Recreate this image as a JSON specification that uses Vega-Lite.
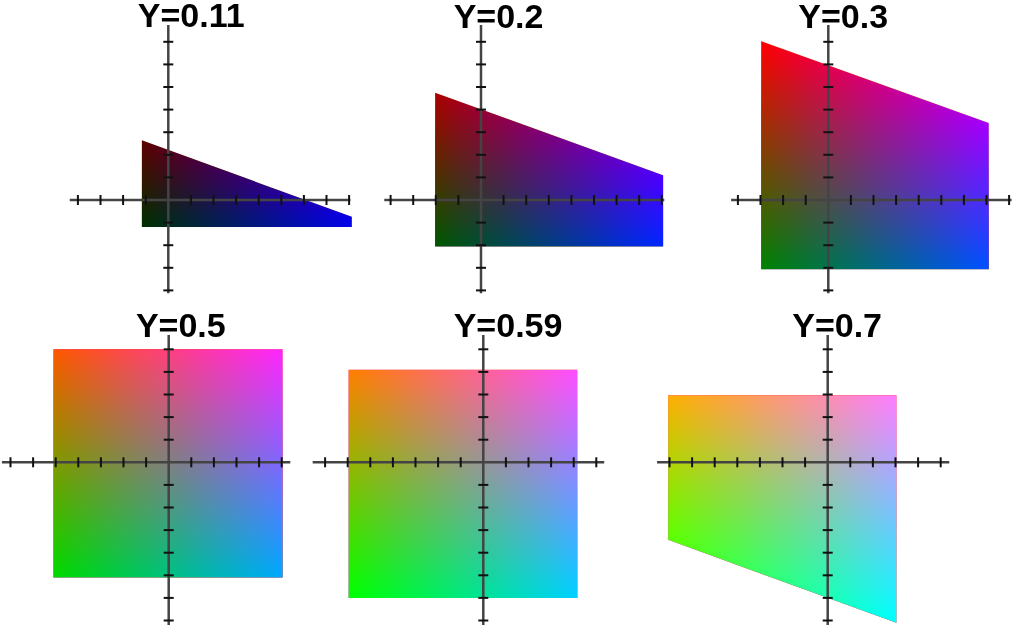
{
  "$schema": "https://vega.github.io/schema/vega-lite/v6.json",
  "padding": 0,
  "background": "white",
  "spacing": 0,
  "bounds": "flush",
  "columns": 3,
  "config": {"view": {"stroke": null}},
  "datasets": {
    "polygons": [
      {"panel": "Y=0.11", "b": -0.117, "r": 0.264, "r2": -0.119},
      {"panel": "Y=0.11", "b": 0.812, "r": -0.074, "r2": -0.119},
      {"panel": "Y=0.2", "b": -0.203, "r": 0.475, "r2": -0.206},
      {"panel": "Y=0.2", "b": 0.806, "r": 0.110, "r2": -0.206},
      {"panel": "Y=0.3", "b": -0.297, "r": 0.703, "r2": -0.306},
      {"panel": "Y=0.3", "b": 0.71, "r": 0.341, "r2": -0.306},
      {"panel": "Y=0.5", "b": -0.51, "r": 0.5, "r2": -0.51},
      {"panel": "Y=0.5", "b": 0.504, "r": 0.5, "r2": -0.51},
      {"panel": "Y=0.59", "b": -0.596, "r": 0.41, "r2": -0.6},
      {"panel": "Y=0.59", "b": 0.416, "r": 0.41, "r2": -0.6},
      {"panel": "Y=0.7", "b": -0.706, "r": 0.297, "r2": -0.343},
      {"panel": "Y=0.7", "b": 0.304, "r": 0.297, "r2": -0.71}
    ],
    "axes": [
      {"panel": "Y=0.11", "b": -0.436, "b2": 0.806, "r": 0, "r2": 0},
      {"panel": "Y=0.11", "b": 0, "b2": 0, "r": -0.413, "r2": 0.774},
      {"panel": "Y=0.2", "b": -0.428, "b2": 0.811, "r": 0, "r2": 0},
      {"panel": "Y=0.2", "b": 0, "b2": 0, "r": -0.413, "r2": 0.774},
      {"panel": "Y=0.3", "b": -0.43, "b2": 0.811, "r": 0, "r2": 0},
      {"panel": "Y=0.3", "b": 0, "b2": 0, "r": -0.413, "r2": 0.774},
      {"panel": "Y=0.5", "b": -0.738, "b2": 0.538, "r": 0, "r2": 0},
      {"panel": "Y=0.5", "b": 0, "b2": 0, "r": -0.72, "r2": 0.563},
      {"panel": "Y=0.59", "b": -0.755, "b2": 0.535, "r": 0, "r2": 0},
      {"panel": "Y=0.59", "b": 0, "b2": 0, "r": -0.72, "r2": 0.563},
      {"panel": "Y=0.7", "b": -0.755, "b2": 0.538, "r": 0, "r2": 0},
      {"panel": "Y=0.7", "b": 0, "b2": 0, "r": -0.72, "r2": 0.563}
    ],
    "ticks_top": [
      {"dir": "h", "b": -0.4, "r": 0}, {"dir": "h", "b": -0.3, "r": 0}, {"dir": "h", "b": -0.2, "r": 0}, {"dir": "h", "b": -0.1, "r": 0},
      {"dir": "h", "b": 0.1, "r": 0}, {"dir": "h", "b": 0.2, "r": 0}, {"dir": "h", "b": 0.3, "r": 0}, {"dir": "h", "b": 0.4, "r": 0},
      {"dir": "h", "b": 0.5, "r": 0}, {"dir": "h", "b": 0.6, "r": 0}, {"dir": "h", "b": 0.7, "r": 0}, {"dir": "h", "b": 0.8, "r": 0},
      {"dir": "v", "b": 0, "r": -0.4}, {"dir": "v", "b": 0, "r": -0.3}, {"dir": "v", "b": 0, "r": -0.2}, {"dir": "v", "b": 0, "r": -0.1},
      {"dir": "v", "b": 0, "r": 0.1}, {"dir": "v", "b": 0, "r": 0.2}, {"dir": "v", "b": 0, "r": 0.3}, {"dir": "v", "b": 0, "r": 0.4},
      {"dir": "v", "b": 0, "r": 0.5}, {"dir": "v", "b": 0, "r": 0.6}, {"dir": "v", "b": 0, "r": 0.7}
    ],
    "ticks_bottom": [
      {"dir": "h", "b": -0.7, "r": 0}, {"dir": "h", "b": -0.6, "r": 0}, {"dir": "h", "b": -0.5, "r": 0}, {"dir": "h", "b": -0.4, "r": 0},
      {"dir": "h", "b": -0.3, "r": 0}, {"dir": "h", "b": -0.2, "r": 0}, {"dir": "h", "b": -0.1, "r": 0}, {"dir": "h", "b": 0.1, "r": 0},
      {"dir": "h", "b": 0.2, "r": 0}, {"dir": "h", "b": 0.3, "r": 0}, {"dir": "h", "b": 0.4, "r": 0}, {"dir": "h", "b": 0.5, "r": 0},
      {"dir": "v", "b": 0, "r": -0.7}, {"dir": "v", "b": 0, "r": -0.6}, {"dir": "v", "b": 0, "r": -0.5}, {"dir": "v", "b": 0, "r": -0.4},
      {"dir": "v", "b": 0, "r": -0.3}, {"dir": "v", "b": 0, "r": -0.2}, {"dir": "v", "b": 0, "r": -0.1}, {"dir": "v", "b": 0, "r": 0.1},
      {"dir": "v", "b": 0, "r": 0.2}, {"dir": "v", "b": 0, "r": 0.3}, {"dir": "v", "b": 0, "r": 0.4}, {"dir": "v", "b": 0, "r": 0.5}
    ],
    "titles": [
      {"panel": "Y=0.11", "b": -0.135, "r": 0.764},
      {"panel": "Y=0.2", "b": -0.121, "r": 0.76},
      {"panel": "Y=0.3", "b": -0.133, "r": 0.76},
      {"panel": "Y=0.5", "b": -0.145, "r": 0.553},
      {"panel": "Y=0.59", "b": -0.131, "r": 0.553},
      {"panel": "Y=0.7", "b": -0.157, "r": 0.553}
    ]
  },
  "concat": [
    {
      "width": 320, "height": 300,
      "encoding": {
        "x": {"field": "b", "type": "quantitative", "scale": {"domain": [-0.74027, 0.67566], "nice": false, "zero": false}, "axis": null},
        "y": {"field": "r", "type": "quantitative", "scale": {"domain": [-0.44248, 0.88496], "nice": false, "zero": false}, "axis": null}
      },
      "layer": [
        {"data": {"name": "polygons"}, "transform": [{"filter": "datum.panel == 'Y=0.11'"}],
         "mark": {"type": "area", "opacity": 1, "fill": {"gradient": "linear", "x1": 0, "y1": 0.9765, "x2": 0, "y2": -1.6345, "stops": [{"offset": 0, "color": "#000000"}, {"offset": 1, "color": "#ff0000"}]}},
         "encoding": {"y2": {"field": "r2"}}},
        {"data": {"name": "polygons"}, "transform": [{"filter": "datum.panel == 'Y=0.11'"}],
         "mark": {"type": "area", "opacity": 1, "blend": "lighten", "fill": {"gradient": "linear", "x1": -0.0045, "y1": 0.0049, "x2": -2.5594, "y2": 2.7679, "stops": [{"offset": 0, "color": "#000000"}, {"offset": 1, "color": "#00ff00"}]}},
         "encoding": {"y2": {"field": "r2"}}},
        {"data": {"name": "polygons"}, "transform": [{"filter": "datum.panel == 'Y=0.11'"}],
         "mark": {"type": "area", "opacity": 1, "blend": "lighten", "fill": {"gradient": "linear", "x1": 0.0075, "y1": 0, "x2": 1.084, "y2": 0, "stops": [{"offset": 0, "color": "#000000"}, {"offset": 1, "color": "#0000ff"}]}},
         "encoding": {"y2": {"field": "r2"}}},
        {"data": {"name": "axes"}, "transform": [{"filter": "datum.panel == 'Y=0.11'"}],
         "mark": {"type": "rule", "color": "#444444", "strokeWidth": 2.5},
         "encoding": {"x2": {"field": "b2"}, "y2": {"field": "r2"}}},
        {"data": {"name": "ticks_top"}, "transform": [{"filter": "datum.dir == 'h'"}],
         "mark": {"type": "tick", "orient": "vertical", "size": 10, "thickness": 2, "color": "#111111", "opacity": 1}},
        {"data": {"name": "ticks_top"}, "transform": [{"filter": "datum.dir == 'v'"}],
         "mark": {"type": "tick", "orient": "horizontal", "size": 10, "thickness": 2, "color": "#111111", "opacity": 1}},
        {"data": {"name": "titles"}, "transform": [{"filter": "datum.panel == 'Y=0.11'"}],
         "mark": {"type": "text", "align": "left", "baseline": "alphabetic", "fontSize": 34, "fontWeight": "bold", "font": "Liberation Sans", "color": "#000000"},
         "encoding": {"text": {"field": "panel"}}}
      ]
    },
    {
      "width": 340, "height": 300,
      "encoding": {
        "x": {"field": "b", "type": "quantitative", "scale": {"domain": [-0.70796, 0.79646], "nice": false, "zero": false}, "axis": null},
        "y": {"field": "r", "type": "quantitative", "scale": {"domain": [-0.44248, 0.88496], "nice": false, "zero": false}, "axis": null}
      },
      "layer": [
        {"data": {"name": "polygons"}, "transform": [{"filter": "datum.panel == 'Y=0.2'"}],
         "mark": {"type": "area", "opacity": 1, "fill": {"gradient": "linear", "x1": 0, "y1": 0.9912, "x2": 0, "y2": -0.4772, "stops": [{"offset": 0, "color": "#000000"}, {"offset": 1, "color": "#ff0000"}]}},
         "encoding": {"y2": {"field": "r2"}}},
        {"data": {"name": "polygons"}, "transform": [{"filter": "datum.panel == 'Y=0.2'"}],
         "mark": {"type": "area", "opacity": 1, "blend": "lighten", "fill": {"gradient": "linear", "x1": -0.0031, "y1": 0.0056, "x2": -1.2376, "y2": 2.191, "stops": [{"offset": 0, "color": "#000000"}, {"offset": 1, "color": "#00ff00"}]}},
         "encoding": {"y2": {"field": "r2"}}},
        {"data": {"name": "polygons"}, "transform": [{"filter": "datum.panel == 'Y=0.2'"}],
         "mark": {"type": "area", "opacity": 1, "blend": "lighten", "fill": {"gradient": "linear", "x1": 0.003, "y1": 0, "x2": 0.9941, "y2": 0, "stops": [{"offset": 0, "color": "#000000"}, {"offset": 1, "color": "#0000ff"}]}},
         "encoding": {"y2": {"field": "r2"}}},
        {"data": {"name": "axes"}, "transform": [{"filter": "datum.panel == 'Y=0.2'"}],
         "mark": {"type": "rule", "color": "#444444", "strokeWidth": 2.5},
         "encoding": {"x2": {"field": "b2"}, "y2": {"field": "r2"}}},
        {"data": {"name": "ticks_top"}, "transform": [{"filter": "datum.dir == 'h'"}],
         "mark": {"type": "tick", "orient": "vertical", "size": 10, "thickness": 2, "color": "#111111", "opacity": 1}},
        {"data": {"name": "ticks_top"}, "transform": [{"filter": "datum.dir == 'v'"}],
         "mark": {"type": "tick", "orient": "horizontal", "size": 10, "thickness": 2, "color": "#111111", "opacity": 1}},
        {"data": {"name": "titles"}, "transform": [{"filter": "datum.panel == 'Y=0.2'"}],
         "mark": {"type": "text", "align": "left", "baseline": "alphabetic", "fontSize": 34, "fontWeight": "bold", "font": "Liberation Sans", "color": "#000000"},
         "encoding": {"text": {"field": "panel"}}}
      ]
    },
    {
      "width": 364, "height": 300,
      "encoding": {
        "x": {"field": "b", "type": "quantitative", "scale": {"domain": [-0.74027, 0.87035], "nice": false, "zero": false}, "axis": null},
        "y": {"field": "r", "type": "quantitative", "scale": {"domain": [-0.44248, 0.88496], "nice": false, "zero": false}, "axis": null}
      },
      "layer": [
        {"data": {"name": "polygons"}, "transform": [{"filter": "datum.panel == 'Y=0.3'"}],
         "mark": {"type": "area", "opacity": 1, "fill": {"gradient": "linear", "x1": 0, "y1": 0.9941, "x2": 0, "y2": 0.003, "stops": [{"offset": 0, "color": "#000000"}, {"offset": 1, "color": "#ff0000"}]}},
         "encoding": {"y2": {"field": "r2"}}},
        {"data": {"name": "polygons"}, "transform": [{"filter": "datum.panel == 'Y=0.3'"}],
         "mark": {"type": "area", "opacity": 1, "blend": "lighten", "fill": {"gradient": "linear", "x1": -0.0003, "y1": 0.0007, "x2": -0.6469, "y2": 1.7003, "stops": [{"offset": 0, "color": "#000000"}, {"offset": 1, "color": "#00ff00"}]}},
         "encoding": {"y2": {"field": "r2"}}},
        {"data": {"name": "polygons"}, "transform": [{"filter": "datum.panel == 'Y=0.3'"}],
         "mark": {"type": "area", "opacity": 1, "blend": "lighten", "fill": {"gradient": "linear", "x1": -0.003, "y1": 0, "x2": 0.9901, "y2": 0, "stops": [{"offset": 0, "color": "#000000"}, {"offset": 1, "color": "#0000ff"}]}},
         "encoding": {"y2": {"field": "r2"}}},
        {"data": {"name": "axes"}, "transform": [{"filter": "datum.panel == 'Y=0.3'"}],
         "mark": {"type": "rule", "color": "#444444", "strokeWidth": 2.5},
         "encoding": {"x2": {"field": "b2"}, "y2": {"field": "r2"}}},
        {"data": {"name": "ticks_top"}, "transform": [{"filter": "datum.dir == 'h'"}],
         "mark": {"type": "tick", "orient": "vertical", "size": 10, "thickness": 2, "color": "#111111", "opacity": 1}},
        {"data": {"name": "ticks_top"}, "transform": [{"filter": "datum.dir == 'v'"}],
         "mark": {"type": "tick", "orient": "horizontal", "size": 10, "thickness": 2, "color": "#111111", "opacity": 1}},
        {"data": {"name": "titles"}, "transform": [{"filter": "datum.panel == 'Y=0.3'"}],
         "mark": {"type": "text", "align": "left", "baseline": "alphabetic", "fontSize": 34, "fontWeight": "bold", "font": "Liberation Sans", "color": "#000000"},
         "encoding": {"text": {"field": "panel"}}}
      ]
    },
    {
      "width": 320, "height": 333,
      "encoding": {
        "x": {"field": "b", "type": "quantitative", "scale": {"domain": [-0.74204, 0.67389], "nice": false, "zero": false}, "axis": null},
        "y": {"field": "r", "type": "quantitative", "scale": {"domain": [-0.75531, 0.71814], "nice": false, "zero": false}, "axis": null}
      },
      "layer": [
        {"data": {"name": "polygons"}, "transform": [{"filter": "datum.panel == 'Y=0.5'"}],
         "mark": {"type": "area", "opacity": 1, "fill": {"gradient": "linear", "x1": 0, "y1": 0.9901, "x2": 0, "y2": 0, "stops": [{"offset": 0, "color": "#000000"}, {"offset": 1, "color": "#ff0000"}]}},
         "encoding": {"y2": {"field": "r2"}}},
        {"data": {"name": "polygons"}, "transform": [{"filter": "datum.panel == 'Y=0.5'"}],
         "mark": {"type": "area", "opacity": 1, "blend": "lighten", "fill": {"gradient": "linear", "x1": 0.2234, "y1": -0.5838, "x2": -0.4254, "y2": 1.1115, "stops": [{"offset": 0, "color": "#000000"}, {"offset": 1, "color": "#00ff00"}]}},
         "encoding": {"y2": {"field": "r2"}}},
        {"data": {"name": "polygons"}, "transform": [{"filter": "datum.panel == 'Y=0.5'"}],
         "mark": {"type": "area", "opacity": 1, "blend": "lighten", "fill": {"gradient": "linear", "x1": 0.0099, "y1": 0, "x2": 0.9961, "y2": 0, "stops": [{"offset": 0, "color": "#000000"}, {"offset": 1, "color": "#0000ff"}]}},
         "encoding": {"y2": {"field": "r2"}}},
        {"data": {"name": "axes"}, "transform": [{"filter": "datum.panel == 'Y=0.5'"}],
         "mark": {"type": "rule", "color": "#444444", "strokeWidth": 2.5},
         "encoding": {"x2": {"field": "b2"}, "y2": {"field": "r2"}}},
        {"data": {"name": "ticks_bottom"}, "transform": [{"filter": "datum.dir == 'h'"}],
         "mark": {"type": "tick", "orient": "vertical", "size": 10, "thickness": 2, "color": "#111111", "opacity": 1}},
        {"data": {"name": "ticks_bottom"}, "transform": [{"filter": "datum.dir == 'v'"}],
         "mark": {"type": "tick", "orient": "horizontal", "size": 10, "thickness": 2, "color": "#111111", "opacity": 1}},
        {"data": {"name": "titles"}, "transform": [{"filter": "datum.panel == 'Y=0.5'"}],
         "mark": {"type": "text", "align": "left", "baseline": "alphabetic", "fontSize": 34, "fontWeight": "bold", "font": "Liberation Sans", "color": "#000000"},
         "encoding": {"text": {"field": "panel"}}}
      ]
    },
    {
      "width": 340, "height": 333,
      "encoding": {
        "x": {"field": "b", "type": "quantitative", "scale": {"domain": [-0.71814, 0.78628], "nice": false, "zero": false}, "axis": null},
        "y": {"field": "r", "type": "quantitative", "scale": {"domain": [-0.75531, 0.71814], "nice": false, "zero": false}, "axis": null}
      },
      "layer": [
        {"data": {"name": "polygons"}, "transform": [{"filter": "datum.panel == 'Y=0.59'"}],
         "mark": {"type": "area", "opacity": 1, "fill": {"gradient": "linear", "x1": 0, "y1": 0.9901, "x2": 0, "y2": 0, "stops": [{"offset": 0, "color": "#000000"}, {"offset": 1, "color": "#ff0000"}]}},
         "encoding": {"y2": {"field": "r2"}}},
        {"data": {"name": "polygons"}, "transform": [{"filter": "datum.panel == 'Y=0.59'"}],
         "mark": {"type": "area", "opacity": 1, "blend": "lighten", "fill": {"gradient": "linear", "x1": 0.3219, "y1": -0.8428, "x2": -0.326, "y2": 0.8534, "stops": [{"offset": 0, "color": "#000000"}, {"offset": 1, "color": "#00ff00"}]}},
         "encoding": {"y2": {"field": "r2"}}},
        {"data": {"name": "polygons"}, "transform": [{"filter": "datum.panel == 'Y=0.59'"}],
         "mark": {"type": "area", "opacity": 1, "blend": "lighten", "fill": {"gradient": "linear", "x1": 0.0059, "y1": 0, "x2": 0.9941, "y2": 0, "stops": [{"offset": 0, "color": "#000000"}, {"offset": 1, "color": "#0000ff"}]}},
         "encoding": {"y2": {"field": "r2"}}},
        {"data": {"name": "axes"}, "transform": [{"filter": "datum.panel == 'Y=0.59'"}],
         "mark": {"type": "rule", "color": "#444444", "strokeWidth": 2.5},
         "encoding": {"x2": {"field": "b2"}, "y2": {"field": "r2"}}},
        {"data": {"name": "ticks_bottom"}, "transform": [{"filter": "datum.dir == 'h'"}],
         "mark": {"type": "tick", "orient": "vertical", "size": 10, "thickness": 2, "color": "#111111", "opacity": 1}},
        {"data": {"name": "ticks_bottom"}, "transform": [{"filter": "datum.dir == 'v'"}],
         "mark": {"type": "tick", "orient": "horizontal", "size": 10, "thickness": 2, "color": "#111111", "opacity": 1}},
        {"data": {"name": "titles"}, "transform": [{"filter": "datum.panel == 'Y=0.59'"}],
         "mark": {"type": "text", "align": "left", "baseline": "alphabetic", "fontSize": 34, "fontWeight": "bold", "font": "Liberation Sans", "color": "#000000"},
         "encoding": {"text": {"field": "panel"}}}
      ]
    },
    {
      "width": 364, "height": 333,
      "encoding": {
        "x": {"field": "b", "type": "quantitative", "scale": {"domain": [-0.73761, 0.87301], "nice": false, "zero": false}, "axis": null},
        "y": {"field": "r", "type": "quantitative", "scale": {"domain": [-0.75531, 0.71814], "nice": false, "zero": false}, "axis": null}
      },
      "layer": [
        {"data": {"name": "polygons"}, "transform": [{"filter": "datum.panel == 'Y=0.7'"}],
         "mark": {"type": "area", "opacity": 1, "fill": {"gradient": "linear", "x1": 0, "y1": 0.9901, "x2": 0, "y2": -0.003, "stops": [{"offset": 0, "color": "#000000"}, {"offset": 1, "color": "#ff0000"}]}},
         "encoding": {"y2": {"field": "r2"}}},
        {"data": {"name": "polygons"}, "transform": [{"filter": "datum.panel == 'Y=0.7'"}],
         "mark": {"type": "area", "opacity": 1, "blend": "lighten", "fill": {"gradient": "linear", "x1": 0.446, "y1": -1.1664, "x2": -0.2043, "y2": 0.5344, "stops": [{"offset": 0, "color": "#000000"}, {"offset": 1, "color": "#00ff00"}]}},
         "encoding": {"y2": {"field": "r2"}}},
        {"data": {"name": "polygons"}, "transform": [{"filter": "datum.panel == 'Y=0.7'"}],
         "mark": {"type": "area", "opacity": 1, "blend": "lighten", "fill": {"gradient": "linear", "x1": 0.0059, "y1": 0, "x2": 0.996, "y2": 0, "stops": [{"offset": 0, "color": "#000000"}, {"offset": 1, "color": "#0000ff"}]}},
         "encoding": {"y2": {"field": "r2"}}},
        {"data": {"name": "axes"}, "transform": [{"filter": "datum.panel == 'Y=0.7'"}],
         "mark": {"type": "rule", "color": "#444444", "strokeWidth": 2.5},
         "encoding": {"x2": {"field": "b2"}, "y2": {"field": "r2"}}},
        {"data": {"name": "ticks_bottom"}, "transform": [{"filter": "datum.dir == 'h'"}],
         "mark": {"type": "tick", "orient": "vertical", "size": 10, "thickness": 2, "color": "#111111", "opacity": 1}},
        {"data": {"name": "ticks_bottom"}, "transform": [{"filter": "datum.dir == 'v'"}],
         "mark": {"type": "tick", "orient": "horizontal", "size": 10, "thickness": 2, "color": "#111111", "opacity": 1}},
        {"data": {"name": "titles"}, "transform": [{"filter": "datum.panel == 'Y=0.7'"}],
         "mark": {"type": "text", "align": "left", "baseline": "alphabetic", "fontSize": 34, "fontWeight": "bold", "font": "Liberation Sans", "color": "#000000"},
         "encoding": {"text": {"field": "panel"}}}
      ]
    }
  ]
}
